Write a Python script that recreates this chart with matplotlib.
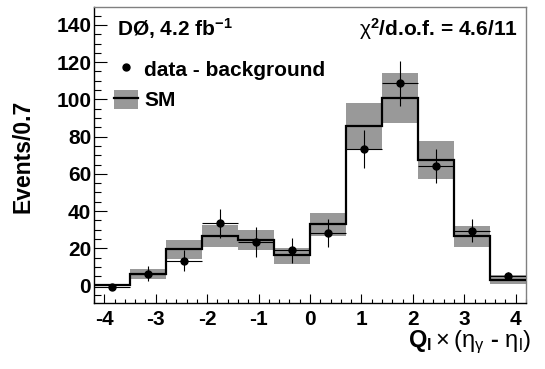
import matplotlib
matplotlib.use("Agg")
import matplotlib.pyplot as plt
import numpy as np
from matplotlib.ticker import MultipleLocator
from matplotlib.patches import Patch
from matplotlib.lines import Line2D

plt.rcParams['font.family'] = ['Liberation Sans', 'DejaVu Sans']
plt.rcParams['mathtext.fontset'] = 'custom'
plt.rcParams['mathtext.rm'] = 'Liberation Sans'
plt.rcParams['mathtext.bf'] = 'Liberation Sans:bold'
plt.rcParams['mathtext.it'] = 'Liberation Sans:italic'

# ---- data ----
bin_edges = [-4.2, -3.5, -2.8, -2.1, -1.4, -0.7, 0.0, 0.7, 1.4, 2.1, 2.8, 3.5, 4.2]
sm_values = [0.3, 6.2, 19.4, 26.6, 24.6, 16.2, 32.8, 85.9, 100.6, 67.6, 26.4, 3.0]
sm_band_hi = [0.9, 8.9, 24.5, 32.6, 29.9, 20.0, 38.9, 97.9, 114.0, 77.8, 31.9, 5.5]
sm_band_lo = [-0.3, 3.3, 14.0, 20.9, 19.1, 11.6, 26.4, 73.2, 87.2, 57.4, 20.6, 1.0]
data_values = [-1.0, 6.3, 13.4, 33.4, 23.4, 18.8, 28.0, 73.4, 108.6, 64.1, 29.5, 4.9]
data_errors = [1.0, 4.0, 5.5, 7.9, 7.9, 6.8, 7.6, 10.4, 11.9, 9.2, 6.3, 2.2]
x_ticks = [-4, -3, -2, -1, 0, 1, 2, 3, 4]
y_ticks = [0, 20, 40, 60, 80, 100, 120, 140]

edges = np.array(bin_edges)
centers = 0.5 * (edges[:-1] + edges[1:])
halfw = 0.5 * np.diff(edges)

FS = 15
fig = plt.figure(figsize=(5.45, 3.69), dpi=100)
ax = fig.add_axes([94/545, 1 - 303.3/369, 432/545, 296/369])

band_color = '#999999'
for i in range(len(sm_values)):
    ax.fill_between([edges[i], edges[i+1]], sm_band_lo[i], sm_band_hi[i],
                    color=band_color, lw=0, zorder=1)

ax.stairs(sm_values, edges, color='black', lw=1.6, zorder=3, baseline=None)

ax.errorbar(centers, data_values, yerr=data_errors, xerr=halfw, fmt='o',
            color='black', ms=5, elinewidth=0.8, capsize=0, zorder=4)

ax.xaxis.set_minor_locator(MultipleLocator(0.2))
ax.yaxis.set_minor_locator(MultipleLocator(5))
ax.set_xticks(x_ticks)
ax.set_xticklabels([str(v) for v in x_ticks], fontweight='bold', fontsize=FS)
ax.set_yticks(y_ticks)
ax.set_yticklabels([str(v) for v in y_ticks], fontweight='bold', fontsize=FS)

ax.tick_params(axis='y', which='major', direction='in', length=9.6, width=0.8, pad=2)
ax.tick_params(axis='y', which='minor', direction='in', length=4.8, width=0.8)
ax.tick_params(axis='x', which='major', direction='in', length=6.7, width=0.8, pad=4.5)
ax.tick_params(axis='x', which='minor', direction='in', length=3.1, width=0.8)

ax.set_xlim(-4.2, 4.2)
ax.set_ylim(-9.6, 149.5)

for s in ['left', 'bottom']:
    ax.spines[s].set_color('black')
    ax.spines[s].set_linewidth(1.0)
for s in ['right', 'top']:
    ax.spines[s].set_color('#808080')
    ax.spines[s].set_linewidth(1.0)

ax.set_ylabel('Events/0.7', fontsize=16.5, fontweight='bold')
ax.yaxis.set_label_coords(-0.137, 0.498)

ax.text(1.0116, -0.1466,
        r'$\mathbf{Q}_{\mathbf{l}}\times(\mathrm{\eta}_{\mathrm{\gamma}}$ - $\mathrm{\eta}_{\mathrm{l}})$',
        transform=ax.transAxes, ha='right', va='baseline', fontsize=17,
        fontweight='bold')

ax.text(0.054, 0.904, r'DØ, 4.2 fb$^{\mathbf{-1}}$', transform=ax.transAxes,
        ha='left', va='baseline', fontsize=FS, fontweight='bold')
ax.text(0.982, 0.904, r'$\mathrm{\chi}^{\mathbf{2}}$/d.o.f. = 4.6/11',
        transform=ax.transAxes, ha='right', va='baseline', fontsize=FS,
        fontweight='bold')

h_data = Line2D([], [], marker='o', ls='none', color='black', ms=5)
h_sm = (Patch(facecolor=band_color, edgecolor='none'), Line2D([], [], color='black', lw=1.6))
ax.legend([h_data, h_sm], ['data - background', 'SM'], loc='upper left',
          bbox_to_anchor=(0.046, 0.825), frameon=False, borderpad=0,
          borderaxespad=0, handlelength=1.15, handleheight=1.0,
          handletextpad=0.3, labelspacing=0.5,
          prop={'family': 'Liberation Sans', 'weight': 'bold', 'size': FS})

fig.savefig('out.png', dpi=100)
